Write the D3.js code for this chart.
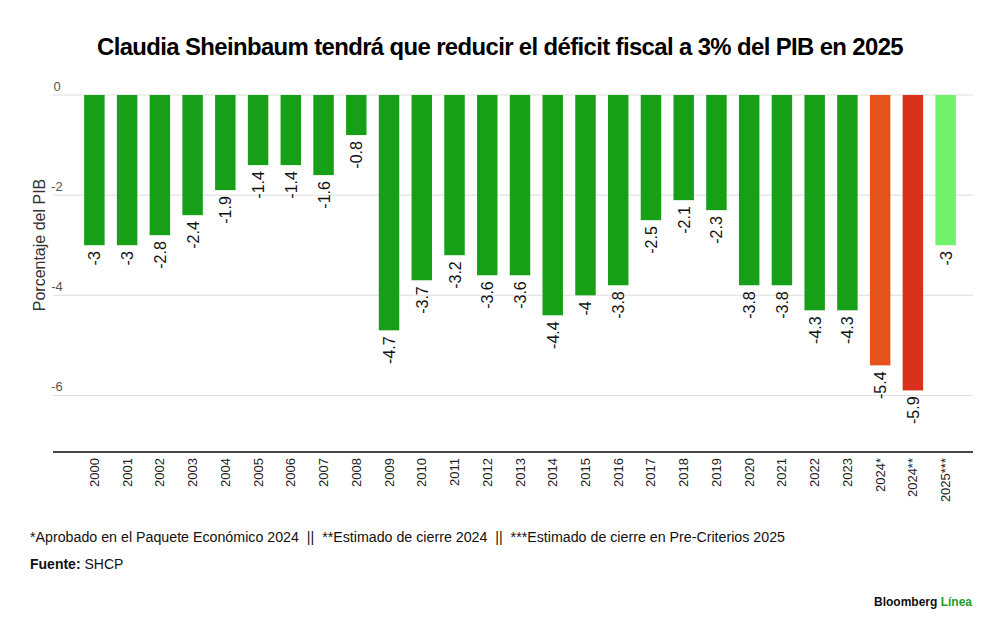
<!DOCTYPE html>
<html><head><meta charset="utf-8">
<script src="https://cdn.jsdelivr.net/npm/d3@7"></script>
<style>body{margin:0;background:#fff;font-family:"Liberation Sans",Arial,sans-serif}</style>
</head><body>
<svg width="1000" height="630"></svg>
<script>
var years = ["2000","2001","2002","2003","2004","2005","2006","2007","2008","2009","2010","2011","2012","2013","2014","2015","2016","2017","2018","2019","2020","2021","2022","2023","2024*","2024**","2025***"];
var values = [-3,-3,-2.8,-2.4,-1.9,-1.4,-1.4,-1.6,-0.8,-4.7,-3.7,-3.2,-3.6,-3.6,-4.4,-4,-3.8,-2.5,-2.1,-2.3,-3.8,-3.8,-4.3,-4.3,-5.4,-5.9,-3];
var colors = years.map(function (y) {
    if (y == "2024*") return "#e6531a";
    if (y == "2024**") return "#da311c";
    if (y == "2025***") return "#6ff36b";
    return "#17a017";
});
var yTicks = [0, -2, -4, -6];

var svg = d3.select("svg");

var x = d3.scaleBand().domain(years).range([78, 962]).paddingInner(0.375).paddingOuter(0.1875);
var y = d3.scaleLinear().domain([0, -7.13]).range([95, 452]);

svg.append("text").attr("x", 500).attr("y", 55).attr("text-anchor", "middle")
    .attr("font-size", 23).attr("font-weight", "bold").attr("letter-spacing", "-0.6")
    .attr("textLength", 806).attr("lengthAdjust", "spacingAndGlyphs")
    .text("Claudia Sheinbaum tendrá que reducir el déficit fiscal a 3% del PIB en 2025");

// gridlines
svg.append("g").selectAll("line").data(yTicks).enter().append("line")
    .attr("x1", 53).attr("x2", 973)
    .attr("y1", function (d) { return y(d); }).attr("y2", function (d) { return y(d); })
    .attr("stroke", "#ddd");
svg.append("g").selectAll("text").data(yTicks).enter().append("text")
    .attr("x", 57).attr("y", function (d) { return y(d) - 4; })
    .attr("text-anchor", "middle").attr("font-size", 13).attr("fill", "#555")
    .text(function (d) { return d; });

svg.append("text").attr("transform", "translate(45,245) rotate(-90)")
    .attr("text-anchor", "middle").attr("font-size", 16).attr("fill", "#333")
    .text("Porcentaje del PIB");

svg.append("g").selectAll("rect").data(values).enter().append("rect")
    .attr("x", function (d, i) { return x(years[i]); })
    .attr("y", y(0))
    .attr("width", x.bandwidth())
    .attr("height", function (d) { return y(d) - y(0); })
    .attr("fill", function (d, i) { return colors[i]; });

svg.append("g").selectAll("text").data(values).enter().append("text")
    .attr("transform", function (d, i) {
        return "translate(" + (x(years[i]) + x.bandwidth() / 2 + 6) + "," + (y(d) + 6) + ") rotate(-90)";
    })
    .attr("text-anchor", "end").attr("font-size", 16).attr("fill", "#111")
    .text(function (d) { return d; });

svg.append("line").attr("x1", 53).attr("x2", 973).attr("y1", 452).attr("y2", 452)
    .attr("stroke", "#444").attr("stroke-width", 2);

svg.append("g").selectAll("text").data(years).enter().append("text")
    .attr("transform", function (d) {
        return "translate(" + (x(d) + x.bandwidth() / 2 + 4.5) + ",458) rotate(-90)";
    })
    .attr("text-anchor", "end").attr("font-size", 13).attr("fill", "#222")
    .text(function (d) { return d; });

svg.append("text").attr("x", 30).attr("y", 542).attr("font-size", 14).attr("fill", "#111")
    .attr("textLength", 755).attr("lengthAdjust", "spacingAndGlyphs")
    .text("*Aprobado en el Paquete Económico 2024\u00a0 ||\u00a0 **Estimado de cierre 2024\u00a0 ||\u00a0 ***Estimado de cierre en Pre-Criterios 2025");
var f = svg.append("text").attr("x", 30).attr("y", 569).attr("font-size", 14).attr("fill", "#111");
f.append("tspan").attr("font-weight", "bold").text("Fuente: ");
f.append("tspan").text("SHCP");

var b = svg.append("text").attr("x", 972).attr("y", 606).attr("text-anchor", "end")
    .attr("font-size", 12).attr("font-weight", "bold");
b.append("tspan").attr("fill", "#111").text("Bloomberg ");
b.append("tspan").attr("fill", "#1f9e2a").text("Línea");
</script>
</body></html>
